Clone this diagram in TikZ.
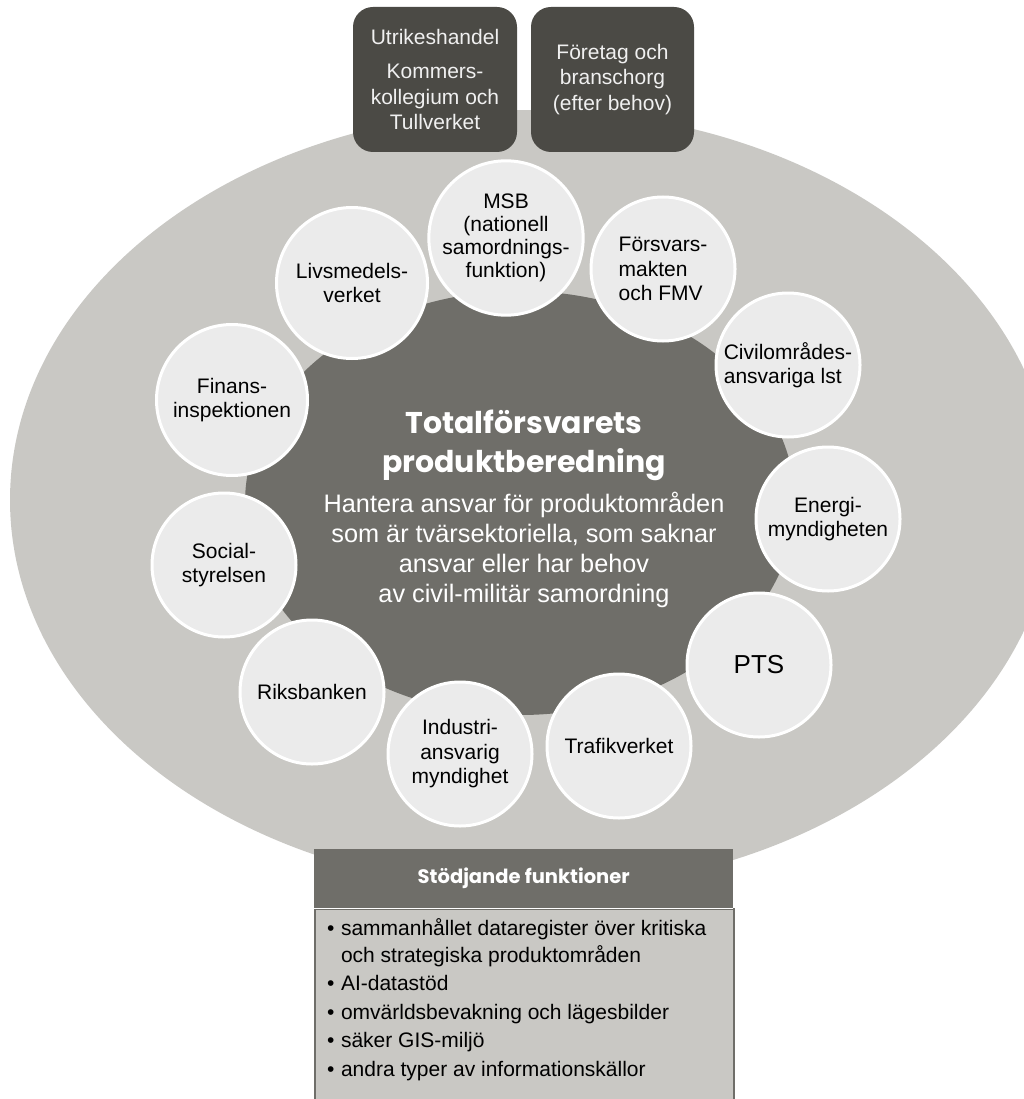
\documentclass[tikz,border=0pt]{standalone}
\usepackage{fontspec}
\setmainfont{Liberation Sans}
\newfontfamily\geo{Poppins}
\definecolor{outergray}{HTML}{C9C8C4}
\definecolor{innerdark}{HTML}{6F6E69}
\definecolor{topdark}{HTML}{4B4A45}
\definecolor{circfill}{HTML}{EBEBEB}
\definecolor{boxtext}{HTML}{F0F0F0}
\begin{document}
\begin{tikzpicture}[x=1pt,y=-1pt,
  circ/.style={circle, fill=circfill, draw=white, line width=3pt, inner sep=0pt,
    minimum size=144pt, align=center, text=black, font=\fontsize{21}{24.5}\selectfont},
  bigcirc/.style={circ, minimum size=151pt},
  topbox/.style={rectangle, rounded corners=20pt, fill=topdark, inner sep=0pt,
    minimum width=164pt, minimum height=145pt, align=center, text=boxtext,
    font=\fontsize{21}{25.5}\selectfont},
  titletxt/.style={text=white, inner sep=0pt, font=\geo\bfseries\fontsize{30}{39}\selectfont},
  bodytxt/.style={text=white, inner sep=0pt, font=\fontsize{25.3}{30}\selectfont},
  hdrbox/.style={rectangle, fill=innerdark, inner sep=0pt, minimum width=419pt,
    minimum height=59pt, anchor=north west, text=white,
    font=\geo\bfseries\fontsize{19.5}{22}\selectfont},
  listbox/.style={rectangle, fill=outergray, draw=innerdark, line width=2pt,
    inner sep=0pt, minimum width=419pt, minimum height=215pt, anchor=north west},
  listtxt/.style={inner sep=0pt, anchor=base west, text=black,
    font=\fontsize{21}{27}\selectfont}
]
\useasboundingbox (0,0) rectangle (1024,1099);
\begin{scope}
\clip (0,0) rectangle (1024,1099);
% outer and inner ellipses
\fill[outergray] (532,500) ellipse [x radius=522pt, y radius=390pt];
\fill[innerdark] (520,503) ellipse [x radius=275pt, y radius=212pt];

% top boxes
\node[topbox] (utr) at (435,79.5) {Utrikeshandel\\[9pt]Kommers-\\kollegium och\\Tullverket};
\node[topbox, minimum width=163pt] (for) at (612.5,79.5) {Företag och\\branschorg\\(efter behov)};

% centre text
\node[titletxt, anchor=base] (t1) at (524,433) {Totalförsvarets};
\node[titletxt, anchor=base] (t2) at (524,472) {produktberedning};
\node[bodytxt, anchor=base] (b1) at (524,512) {Hantera ansvar för produktområden};
\node[bodytxt, anchor=base] (b2) at (524,542) {som är tvärsektoriella, som saknar};
\node[bodytxt, anchor=base] (b3) at (524,572) {ansvar eller har behov};
\node[bodytxt, anchor=base] (b4) at (524,602) {av civil-militär samordning};

% circles
\node[circ, font=\fontsize{21}{23}\selectfont] (msb) at (506,238) {MSB\\(nationell\\samordnings-\\funktion)};
\node[circ, align=left] (fm) at (663,269) {Försvars-\\makten\\och FMV};
\node[circ, align=left] (civ) at (788,365) {Civilområdes-\\ansvariga lst};
\node[circ] (energi) at (828,519) {Energi-\\myndigheten};
\node[circ, font=\fontsize{26}{30}\selectfont] (pts) at (759,665) {PTS};
\node[circ] (traf) at (619,746) {Trafikverket};
\node[circ] (ind) at (460,754) {Industri-\\ansvarig\\myndighet};
\node[circ] (riks) at (312,692) {Riksbanken};
\node[circ] (soc) at (224,565) {Social-\\styrelsen};
\node[bigcirc] (fin) at (232,400) {Finans-\\inspektionen};
\node[bigcirc] (liv) at (352,283) {Livsmedels-\\verket};

% bottom box
\node[listbox] (lb) at (314,908) {};
\node[hdrbox] (hdr) at (314,849) {Stödjande funktioner};
\draw[white, line width=1.2pt] (hdr.south west) -- (hdr.south east);
\node[listtxt] (lst) at (327,935) {%
\begin{tabular}[t]{@{}l@{\hspace{6.5pt}}l@{}}
• & sammanhållet dataregister över kritiska\\
  & och strategiska produktområden\\[1.5pt]
• & AI-datastöd\\[1.5pt]
• & omvärldsbevakning och lägesbilder\\[1.5pt]
• & säker GIS-miljö\\[1.5pt]
• & andra typer av informationskällor
\end{tabular}};
\end{scope}
\end{tikzpicture}
\end{document}
